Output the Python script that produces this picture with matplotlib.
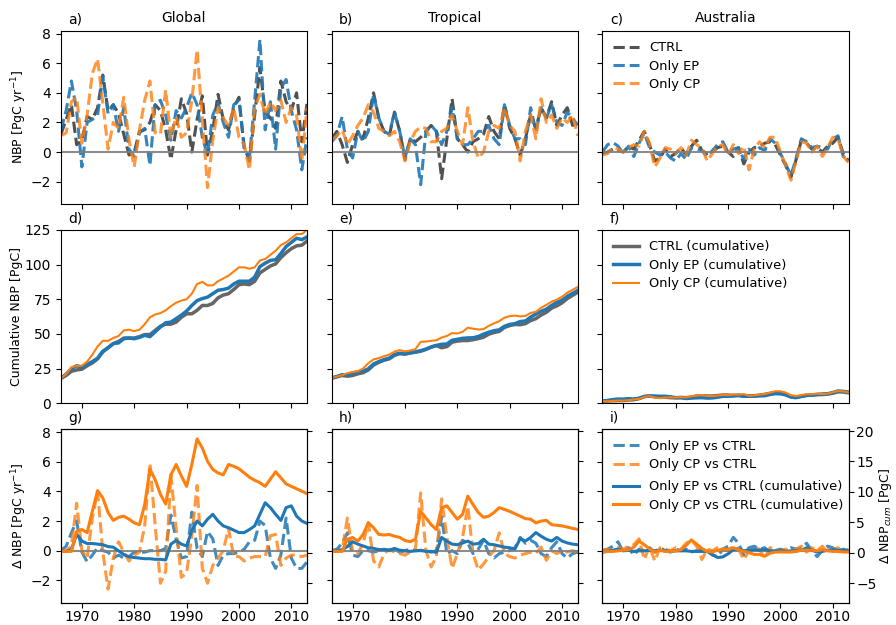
"""
NBP anomalies for CTRL / Only EP / Only CP runs.
Rows: annual NBP, cumulative NBP, difference to CTRL.
Columns: Global, Tropical, Australia.
"""

import matplotlib
matplotlib.use("Agg")
import matplotlib.pyplot as plt

YEARS = list(range(1966, 2014))

# ── row 1: annual NBP [PgC/yr] ────────────────────────────────────────────
glob_ctrl = [1.2, 2.2, 3.2, 0.5, 0.8, 2.4, 2.2, 3.0, 5.2, 2.8, 3.2, 2.6, 1.2, -0.2, 0.0, 1.4,
             1.5, 2.0, 3.2, 2.8, 1.5, -0.5, 1.5, 3.6, 2.6, 0.0, 2.2, 3.8, -0.2, 1.5, 3.9, 2.2,
             1.5, 3.0, 3.7, 0.3, -0.6, 2.5, 5.7, 2.7, 2.3, 1.6, 4.8, 3.4, 2.8, 4.0, 0.7, 3.3]
glob_ep = [1.5, 2.8, 4.8, 2.8, -1.0, 2.0, 2.2, 2.5, 5.1, 2.6, 3.2, 1.4, 3.0, 0.2, -0.3, 1.3,
           1.6, -0.9, 3.3, 3.5, 2.5, 0.8, 2.8, 2.3, 3.0, 4.0, 3.2, 1.0, -0.2, 2.5, 3.3, 2.0,
           1.0, 3.2, 3.5, 0.3, -0.4, 3.5, 7.6, 1.5, 3.4, 0.2, 4.3, 4.9, 2.8, 1.5, -1.2, 1.0]
glob_cp = [1.1, 1.3, 3.4, 3.7, 0.6, 2.5, 5.3, 6.3, 3.3, 0.2, 2.0, 1.6, 3.7, 0.8, -1.0, 1.5,
           3.5, 4.8, 1.3, 1.2, 4.2, 1.0, 2.4, 1.0, 1.3, 3.5, 6.9, 2.2, -2.4, 0.8, 3.0, 2.3,
           1.8, 3.0, 1.0, 0.5, -1.2, 3.0, 3.9, 2.5, 3.4, 2.8, 3.5, 2.0, 3.0, 2.5, -0.6, 3.0]

trop_ctrl = [0.9, 1.4, 0.5, -0.7, 0.5, 1.4, 0.9, 2.3, 4.0, 2.3, 1.4, 1.1, 2.7, 1.4, -0.5, 0.9,
             0.7, 1.0, 1.4, 1.8, 1.4, -1.8, 0.9, 3.6, 0.9, 0.5, 0.0, 0.7, 0.9, 1.2, 2.4, 1.4,
             0.9, 3.2, 1.6, 0.9, -0.2, 0.9, 2.5, 1.6, 3.0, 2.3, 3.4, 1.8, 2.5, 3.0, 1.8, 2.0]
trop_ep = [0.7, 1.1, 2.4, 0.2, -0.4, 1.4, 0.7, 1.4, 3.9, 2.3, 1.4, 1.2, 2.7, 1.4, -0.4, 0.9,
           0.5, -2.2, 1.4, 1.8, 1.4, 0.5, 1.4, 3.0, 0.9, 0.5, 0.5, 0.9, 1.4, 1.4, 1.8, 0.9,
           0.5, 3.2, 1.8, 0.9, 0.9, 0.5, 3.0, 1.4, 3.0, 2.3, 3.2, 2.0, 1.8, 2.7, 2.3, 1.8]
trop_cp = [0.8, 1.1, 1.5, 0.5, 1.1, 1.8, 2.3, 3.2, 2.7, 1.6, 1.4, 1.1, 1.4, 0.7, -0.6, 0.7,
           1.4, 1.7, 1.6, 0.7, 0.7, 1.4, 1.6, 2.5, 1.4, 0.5, 3.0, 0.7, -0.4, 0.0, 1.4, 1.8,
           1.6, 3.0, 1.8, 1.4, -0.6, 1.4, 2.5, 0.9, 3.6, 2.0, 2.5, 1.6, 2.3, 2.0, 2.5, 1.1]

aus_ctrl = [-0.1, 0.0, 0.2, 0.1, 0.0, 0.4, 0.2, 0.8, 1.4, 0.5, -0.6, -0.4, 0.2, -0.3, -0.1, 0.3,
            -0.2, 0.4, 0.8, 0.1, -0.1, 0.0, 0.3, 0.4, 0.0, -0.3, 0.3, -0.8, 0.0, 0.3, 0.4, 0.6,
            0.7, 0.5, -0.2, -0.9, -1.7, -0.5, 0.8, 0.6, 0.2, 0.3, 0.0, 0.4, 0.6, 1.0, -0.1, -0.6]
aus_ep = [0.0, 0.5, 0.65, 0.4, -0.1, 0.4, -0.3, 0.6, 1.3, 0.3, 0.0, -0.2, 0.0, -0.4, -0.6, -0.1,
          -0.5, 0.3, 0.2, 0.1, -0.3, 0.1, 0.5, 0.7, 0.0, 0.2, 0.3, -0.5, 0.2, -0.2, 0.3, 0.1,
          0.9, 0.6, -0.1, -0.8, -1.6, -0.4, 0.9, 0.7, 0.3, 0.4, 0.3, 0.2, 0.9, 1.1, -0.3, -0.5]
aus_cp = [-0.2, -0.1, 0.3, 0.2, 0.0, 0.3, 0.5, 0.4, 1.4, 0.6, -1.0, -0.4, 0.3, 0.2, -0.1, 0.3,
          -0.2, 0.8, 0.5, 0.3, -0.6, -0.1, 0.4, 0.5, -0.2, 0.5, -0.1, 0.4, -1.2, 0.2, 0.7, 0.3,
          1.0, 1.0, 0.0, -0.9, -1.9, -0.6, 0.7, 0.6, 0.0, 0.4, -0.3, 0.3, 1.0, 0.9, -0.3, -0.7]

# ── row 2: cumulative NBP [PgC] ───────────────────────────────────────────
glob_ctrl_cum = [18, 20, 23, 24, 24.5, 27, 29, 32, 37, 40, 43, 44.5, 47, 47, 47, 48,
                 49.5, 49.5, 52.5, 55.5, 57, 57, 58.5, 62, 64.5, 64.5, 67, 70.5, 70.5, 72, 76, 78,
                 79, 82, 85.5, 86, 85.5, 88, 94, 96.5, 99, 100.5, 105, 108.5, 111.5, 113.5, 114, 117]
glob_ep_cum = [18, 21, 25, 27, 26, 28, 30, 32.5, 37.5, 40, 43, 43.5, 46.5, 47, 46.5, 47.5,
               49, 48, 51.5, 55, 58, 58.5, 61, 63.5, 66.5, 70.5, 74, 75.5, 76.5, 79, 81.5, 82,
               83, 86, 88, 88, 88, 91, 98.5, 101, 103, 103.5, 108, 113, 116, 119, 118, 120]
glob_cp_cum = [18, 21, 26, 27, 27, 30, 35, 41, 45, 45, 47, 48.5, 52.5, 53, 52, 53,
               57, 62, 64, 65, 67, 70, 72.5, 74, 75, 79, 86, 87.5, 85, 85, 88, 90,
               92, 95, 98, 98, 97, 98, 103, 104, 107, 110, 114, 116, 119, 122, 122, 125]

trop_ctrl_cum = [18.0, 19.0, 20.0, 19.5, 20.0, 21.2, 22.0, 24.0, 27.5, 29.5, 31.0, 32.0, 34.5, 35.8, 35.4, 36.2,
                 36.8, 37.5, 38.8, 40.4, 41.6, 40.0, 40.8, 44.0, 44.8, 45.2, 45.2, 45.8, 46.6, 47.6, 49.8, 51.0,
                 51.8, 54.6, 56.0, 56.8, 56.6, 57.4, 59.6, 61.0, 63.6, 65.6, 68.6, 70.2, 72.4, 75.5, 77.8, 80.0]
trop_ep_cum = [18.2, 19.3, 20.5, 20.5, 21.8, 22.6, 23.1, 24.8, 28.3, 30.0, 31.5, 32.5, 35.2, 36.0, 35.7, 36.4,
               37.0, 37.9, 39.0, 40.6, 41.7, 42.5, 42.7, 45.4, 46.1, 46.8, 47.1, 47.2, 48.1, 49.8, 51.2, 52.3,
               52.9, 55.5, 56.8, 57.4, 58.9, 59.3, 62.1, 64.3, 66.3, 67.8, 70.5, 72.7, 74.3, 77.1, 79.2, 81.3]
trop_cp_cum = [18.2, 19.2, 20.2, 21.7, 22.5, 23.1, 25.0, 28.9, 31.6, 32.5, 33.9, 35.0, 37.2, 38.3, 37.4, 38.0,
               39.0, 44.3, 44.5, 45.0, 45.4, 47.4, 48.5, 50.6, 50.3, 51.5, 54.5, 53.7, 53.2, 53.4, 55.8, 57.6,
               59.2, 61.7, 62.8, 63.2, 62.6, 63.0, 65.1, 65.9, 68.8, 70.9, 73.2, 74.7, 76.8, 79.7, 81.8, 83.8]

aus_ctrl_cum = [1.5, 1.6, 1.8, 1.9, 1.9, 2.3, 2.5, 3.3, 4.7, 5.2, 4.6, 4.2, 4.3, 4.0, 3.9, 4.2,
                4.0, 4.4, 5.2, 5.3, 5.2, 5.2, 5.5, 5.9, 5.9, 5.6, 5.9, 5.1, 5.1, 5.4, 5.8, 6.4,
                7.1, 7.6, 7.4, 6.5, 4.8, 4.3, 5.1, 5.7, 5.9, 6.2, 6.2, 6.6, 7.2, 8.2, 8.1, 7.5]
aus_ep_cum = [1.5, 2.0, 2.6, 3.0, 2.9, 3.3, 3.0, 3.6, 4.9, 5.2, 5.2, 5.0, 5.0, 4.6, 4.0, 3.9,
              3.4, 3.7, 3.9, 4.0, 3.7, 3.8, 4.3, 5.0, 5.0, 5.2, 5.5, 5.0, 5.2, 5.0, 5.3, 5.4,
              6.3, 6.9, 6.8, 6.0, 4.4, 4.0, 4.9, 5.6, 5.9, 6.3, 6.6, 6.8, 7.7, 8.8, 8.5, 8.0]
aus_cp_cum = [1.5, 1.4, 1.7, 1.9, 1.9, 2.2, 2.7, 3.1, 4.5, 5.1, 4.1, 3.7, 4.0, 4.2, 4.1, 4.4,
              4.2, 5.0, 5.5, 5.8, 5.2, 5.1, 5.5, 6.0, 5.8, 6.3, 6.2, 6.6, 5.4, 5.6, 6.3, 6.6,
              7.6, 8.6, 8.6, 7.7, 5.8, 5.2, 5.9, 6.5, 6.5, 6.9, 6.6, 6.9, 7.9, 8.8, 8.5, 7.8]

# ── row 3: difference to CTRL (annual [PgC/yr], cumulative [PgC]) ─────────
glob_ep_diff = [0.0, 0.3, 1.2, 2.0, -0.1, -0.75, -0.3, 0.2, 0.0, -0.1, -0.5, -0.3, -0.5, -0.4, -0.1, -0.1,
                -0.1, 0.0, 0.0, 0.0, 0.15, 2.4, 0.8, -0.5, -0.4, 2.6, 0.15, -0.4, 1.3, 0.8, -1.0, -0.3,
                -0.2, -0.2, -0.1, 0.1, 0.6, 0.7, 2.0, 1.7, -0.5, -1.2, -0.3, 2.2, -0.5, -1.2, -1.2, -0.75]
glob_cp_diff = [0.0, 0.0, 0.3, 3.2, 0.0, -0.5, 2.2, 4.0, -0.1, -2.6, -0.5, 0.6, -0.1, -0.7, -0.3, -0.1,
                1.7, 5.9, 1.7, -2.2, -1.4, 5.1, 1.5, -1.8, -1.5, 1.0, 4.4, -1.2, -2.2, -1.0, -0.5, 0.0,
                1.5, -0.4, -0.4, -0.7, -0.5, -0.4, -0.4, -0.4, 1.0, 1.1, -1.0, -0.5, -0.3, -0.3, -0.4, -0.3]
glob_ep_dcum = [0.2, 0.2, 0.5, 3.0, 1.9, 1.5, 1.5, 1.4, 1.3, 1.0, 0.9, 0.3, -0.3, -0.7, -0.8, -0.9,
                -1.0, -1.0, -1.1, -1.1, -1.2, 1.4, 2.0, 1.4, 1.1, 3.6, 5.2, 4.4, 5.5, 6.3, 5.2, 4.4,
                4.1, 3.7, 3.3, 3.3, 3.8, 4.4, 6.3, 8.2, 7.4, 6.3, 5.3, 7.4, 7.7, 6.0, 5.2, 4.8]
glob_cp_dcum = [0.2, 0.2, 0.2, 3.5, 3.8, 3.3, 6.8, 10.2, 9.0, 6.6, 5.3, 5.8, 6.0, 5.5, 4.9, 4.6,
                7.9, 13.7, 12.0, 9.6, 8.0, 12.8, 14.5, 12.6, 10.9, 14.5, 18.7, 17.2, 15.0, 13.7, 13.1, 12.8,
                14.5, 14.2, 13.8, 13.1, 12.4, 11.9, 11.5, 10.9, 12.1, 13.3, 12.3, 11.3, 10.9, 10.5, 10.1, 9.7]

trop_ep_diff = [0.0, 0.1, 0.5, 1.2, -0.3, -0.4, 0.0, 0.0, -0.1, 0.0, 0.1, 0.0, 0.1, -0.1, 0.0, 0.1,
                0.0, 0.0, 0.0, -0.1, 0.0, 2.3, -0.2, 0.0, -0.2, 0.7, 0.5, -0.2, 0.1, 0.7, -0.2, -0.5,
                -0.2, -0.1, 0.0, 0.2, 0.9, 0.5, 0.7, 0.5, -0.2, -0.4, 0.2, 0.6, -0.2, -0.5, -0.2, -0.1]
trop_cp_diff = [0.0, 0.0, 0.0, 2.2, 0.0, -0.2, 0.5, 1.9, -0.7, -1.1, -0.2, 0.1, -0.1, -0.2, -0.3, -0.1,
                0.1, 3.9, 0.0, -1.1, -0.4, 3.5, 0.9, -1.2, -0.2, 0.9, 3.0, -0.2, -1.3, -0.9, -0.4, 0.0,
                1.2, -0.2, -0.4, -0.5, -0.3, -0.2, -0.1, -0.2, 0.25, -0.65, 0.0, -0.2, 0.0, -0.1, 0.0, -0.1]
trop_ep_dcum = [0.2, 0.3, 0.5, 1.0, 1.8, 1.4, 1.1, 0.8, 0.7, 0.5, 0.5, 0.4, 0.7, 0.4, 0.3, 0.2,
                0.3, 0.4, 0.2, 0.2, 0.05, 2.5, 1.9, 1.4, 1.3, 1.6, 1.9, 1.4, 1.5, 2.2, 1.4, 1.3,
                1.1, 0.9, 0.8, 0.6, 2.3, 1.9, 2.5, 3.3, 2.7, 2.2, 1.9, 2.5, 1.9, 1.6, 1.4, 1.3]
trop_cp_dcum = [0.2, 0.2, 0.2, 2.2, 2.5, 1.9, 3.0, 4.9, 4.1, 3.0, 2.9, 3.0, 2.7, 2.5, 2.0, 1.8,
                2.2, 6.8, 5.7, 4.6, 3.8, 7.4, 7.7, 6.6, 5.5, 6.3, 9.3, 7.9, 6.6, 5.8, 6.0, 6.6,
                7.4, 7.1, 6.8, 6.4, 6.0, 5.6, 5.5, 4.9, 5.2, 5.3, 4.6, 4.5, 4.4, 4.2, 4.0, 3.8]

aus_ep_diff = [0.0, 0.1, 0.3, 0.6, -0.1, 0.2, -0.3, 0.1, 0.0, 0.2, -0.1, 0.2, 0.0, -0.1, 0.1, 0.0,
               0.1, -0.1, 0.0, 0.1, 0.0, -0.3, -0.4, 0.1, 0.3, 0.9, 0.5, -0.3, 0.2, 0.3, 0.1, 0.2,
               -0.1, 0.0, 0.1, 0.0, 0.2, 0.1, 0.2, 0.5, 0.0, -0.4, 0.0, 0.3, 0.2, -0.1, 0.1, 0.0]
aus_cp_diff = [0.0, 0.1, 0.0, 0.2, 0.1, 0.3, 0.4, 0.8, -0.6, 0.3, -0.7, 0.2, 0.1, 0.0, 0.2, 0.1,
               0.5, 0.7, 0.3, -0.6, 0.1, 0.0, 0.2, 0.1, 0.0, 0.3, 0.1, -0.6, 0.0, 0.2, 0.1, -0.5,
               0.2, 0.1, 0.0, 0.1, 0.0, 0.1, 0.3, -0.1, 0.2, 0.0, 0.3, -0.1, 0.1, 0.2, -0.1, 0.1]
aus_ep_dcum = [0.1, 0.2, 0.4, 0.6, 0.3, 0.4, 0.2, 0.3, 0.3, 0.4, 0.3, 0.4, 0.3, 0.2, 0.3, 0.3,
               0.3, 0.2, 0.2, 0.2, 0.2, -0.3, -0.8, -0.7, -0.2, 0.5, 0.6, 0.3, 0.4, 0.5, 0.4, 0.5,
               0.3, 0.3, 0.3, 0.2, 0.3, 0.3, 0.4, 0.8, 0.4, 0.1, 0.2, 0.4, 0.5, 0.4, 0.4, 0.3]
aus_cp_dcum = [0.1, 0.2, 0.2, 0.3, 0.4, 0.5, 0.9, 1.9, 1.3, 0.6, 0.1, 0.4, 0.2, 0.2, 0.3, 0.5,
               1.2, 2.1, 1.4, 0.7, 0.2, 0.1, 0.4, 0.6, 0.5, 0.8, 0.5, 0.2, 0.0, -0.3, -0.3, -0.6,
               -0.1, 0.1, 0.1, 0.1, 0.1, 0.2, 0.4, 0.4, 0.4, 0.3, 0.5, 0.3, 0.2, 0.2, 0.1, 0.1]

REGIONS = ["Global", "Tropical", "Australia"]
PANEL = ["a)", "b)", "c)", "d)", "e)", "f)", "g)", "h)", "i)"]

annual = [(glob_ctrl, glob_ep, glob_cp), (trop_ctrl, trop_ep, trop_cp), (aus_ctrl, aus_ep, aus_cp)]
cumul = [(glob_ctrl_cum, glob_ep_cum, glob_cp_cum), (trop_ctrl_cum, trop_ep_cum, trop_cp_cum),
         (aus_ctrl_cum, aus_ep_cum, aus_cp_cum)]
diffs = [(glob_ep_diff, glob_cp_diff, glob_ep_dcum, glob_cp_dcum),
         (trop_ep_diff, trop_cp_diff, trop_ep_dcum, trop_cp_dcum),
         (aus_ep_diff, aus_cp_diff, aus_ep_dcum, aus_cp_dcum)]

C_CTRL = "0.2"
C_EP = "tab:blue"
C_CP = "tab:orange"
LEG = dict(loc="upper left", frameon=False, fontsize=9.4, labelspacing=0.42, borderaxespad=0.4)


def main():
    fig, axes = plt.subplots(3, 3, figsize=(8.96, 6.25), dpi=100, sharex=True, sharey="row")
    fig.subplots_adjust(left=0.068, right=0.947, top=0.951, bottom=0.036, wspace=0.1, hspace=0.15)

    for j in range(3):
        # ── annual NBP ────────────────────────────────────────────────────
        ax = axes[0, j]
        ctrl, ep, cp = annual[j]
        ax.plot(YEARS, ctrl, "--", color=C_CTRL, lw=2.2, alpha=0.85, label="CTRL")
        ax.plot(YEARS, ep, "--", color=C_EP, lw=2.2, alpha=0.9, label="Only EP")
        ax.plot(YEARS, cp, "--", color=C_CP, lw=2.2, alpha=0.8, label="Only CP")
        ax.axhline(0, color="gray", lw=1.5, alpha=0.9)
        ax.set_title(REGIONS[j], fontsize=10)

        # ── cumulative NBP ────────────────────────────────────────────────
        ax = axes[1, j]
        ctrl, ep, cp = cumul[j]
        ax.plot(YEARS, ctrl, "-", color="0.4", lw=2.5, label="CTRL (cumulative)")
        ax.plot(YEARS, ep, "-", color=C_EP, lw=2.5, label="Only EP (cumulative)")
        ax.plot(YEARS, cp, "-", color=C_CP, lw=1.5, label="Only CP (cumulative)")

        # ── difference to CTRL ────────────────────────────────────────────
        ax = axes[2, j]
        ep_d, cp_d, ep_c, cp_c = diffs[j]
        l1, = ax.plot(YEARS, ep_d, "--", color=C_EP, lw=2.2, alpha=0.85, label="Only EP vs CTRL")
        l2, = ax.plot(YEARS, cp_d, "--", color=C_CP, lw=2.2, alpha=0.8, label="Only CP vs CTRL")
        ax.axhline(0, color="gray", lw=1.5, alpha=0.9)
        tw = ax.twinx()
        l3, = tw.plot(YEARS, ep_c, "-", color=C_EP, lw=2.2, label="Only EP vs CTRL (cumulative)")
        l4, = tw.plot(YEARS, cp_c, "-", color=C_CP, lw=2.2, label="Only CP vs CTRL (cumulative)")
        tw.set_ylim(-8.2, 20.3)
        tw.set_yticks([-5, 0, 5, 10, 15, 20])
        tw.tick_params(labelsize=10, pad=2)
        if j < 2:
            tw.tick_params(labelright=False)
        else:
            tw.set_ylabel(r"$\Delta$ NBP$_{cum}$ [PgC]", fontsize=9, labelpad=0)
            leg1 = tw.legend(handles=[l1, l2], **LEG)
            tw.add_artist(leg1)
            tw.legend(handles=[l3, l4], bbox_to_anchor=(0.0, 0.765), **LEG)

    for k, ax in enumerate(axes.flat):
        ax.text(0.03, 1.025, PANEL[k], transform=ax.transAxes, fontsize=10,
                ha="left", va="bottom")
        ax.set_xlim(1966, 2013)
        ax.tick_params(labelsize=10)
        ax.tick_params(axis="x", pad=2)

    axes[0, 0].set_ylim(-3.5, 8.2)
    axes[0, 0].set_yticks([-2, 0, 2, 4, 6, 8])
    axes[1, 0].set_ylim(0, 125)
    axes[1, 0].set_yticks([0, 25, 50, 75, 100, 125])
    axes[2, 0].set_ylim(-3.5, 8.2)
    axes[2, 0].set_yticks([-2, 0, 2, 4, 6, 8])
    axes[2, 0].set_xticks([1970, 1980, 1990, 2000, 2010])

    axes[0, 0].set_ylabel(r"NBP [PgC yr$^{-1}$]", fontsize=9, labelpad=1)
    axes[1, 0].set_ylabel("Cumulative NBP [PgC]", fontsize=9, labelpad=1)
    axes[2, 0].set_ylabel(r"$\Delta$ NBP [PgC yr$^{-1}$]", fontsize=9, labelpad=1)

    axes[0, 2].legend(**LEG)
    axes[1, 2].legend(**LEG)

    fig.savefig("out.png", dpi=100)


if __name__ == "__main__":
    main()
